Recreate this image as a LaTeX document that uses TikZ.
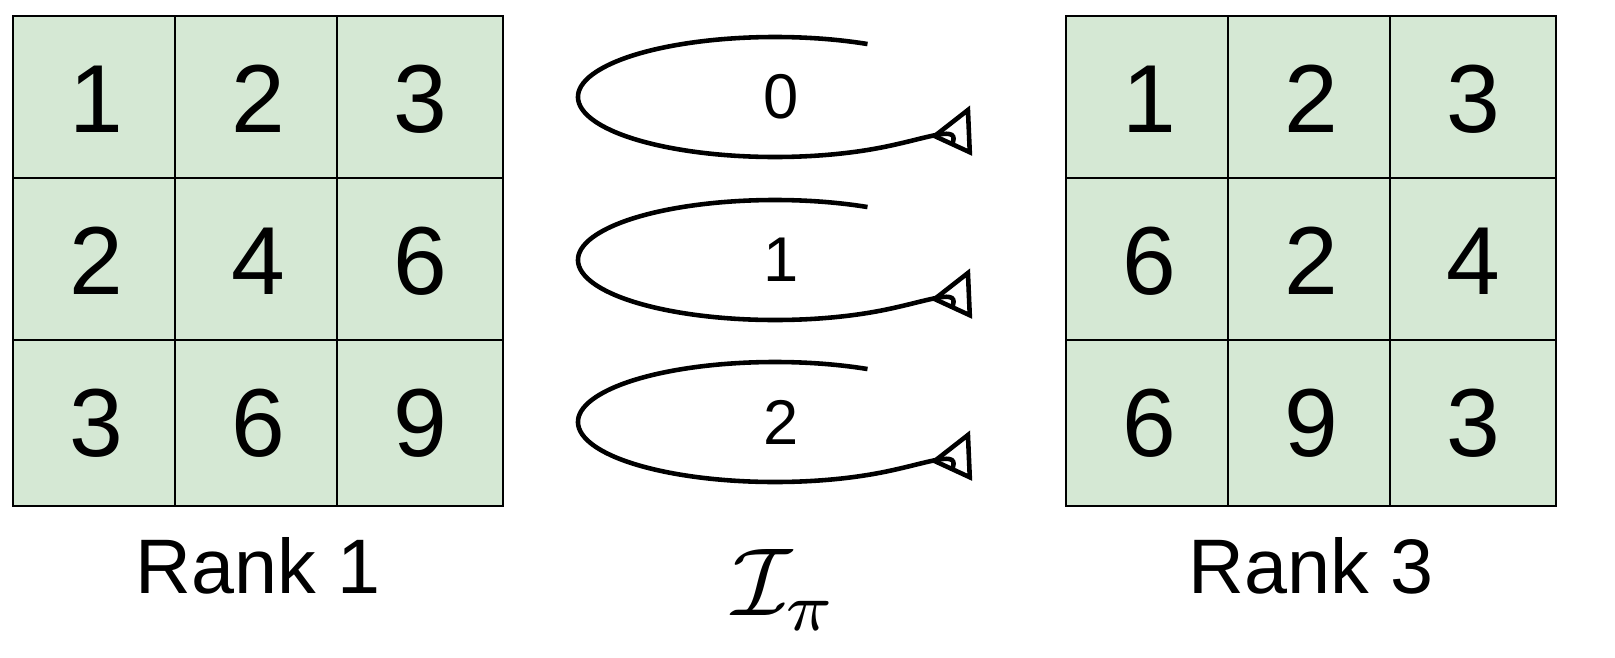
\documentclass[tikz,border=0pt]{standalone}
\usepackage{fontspec}
\setmainfont{Liberation Sans}
\usetikzlibrary{arrows.meta}
\definecolor{cellgreen}{HTML}{D5E8D4}
\tikzset{
  cell/.style={draw, line width=1.2pt, fill=cellgreen, minimum size=3.33cm,
    inner sep=0pt, font=\fontsize{55}{60}\selectfont},
  loop/.style={line width=2.6pt, -{Triangle[open, length=0.9cm, width=0.9cm, line width=2.6pt]}}
}
\begin{document}
\begin{tikzpicture}[x=0.02cm, y=-0.02cm]
    \useasboundingbox (0,0) rectangle (1615,657);

    % left grid
    \foreach \v [count=\i from 0] in {1,2,3,2,4,6,3,6,9} {
        \pgfmathtruncatemacro{\c}{mod(\i,3)}
        \pgfmathtruncatemacro{\r}{div(\i,3)}
        \node[cell] (l\i) at (96+162*\c, 99+162*\r) {\v};
    }
    % right grid
    \foreach \v [count=\i from 0] in {1,2,3,6,2,4,6,9,3} {
        \pgfmathtruncatemacro{\c}{mod(\i,3)}
        \pgfmathtruncatemacro{\r}{div(\i,3)}
        \node[cell] (r\i) at (1149+162*\c, 99+162*\r) {\v};
    }

    \node[font=\fontsize{44}{48}\selectfont] (rankl) at (258,566) {Rank 1};
    \node[font=\fontsize{44}{48}\selectfont] (rankr) at (1311,566) {Rank 3};

    % loops
    \foreach \y/\t in {97/0, 260/1, 422/2} {
        \draw[loop] (775,\y) ++(-62:197 and 60) arc[start angle=-62, end angle=-352, x radius=197, y radius=60];
        \node[font=\fontsize{36}{40}\selectfont] (k\t) at (781,\y) {\t};
    }

    \node (perm) at (785,590) {\scalebox{5.5}{$\mathcal{I}_\pi$}};
\end{tikzpicture}
\end{document}
